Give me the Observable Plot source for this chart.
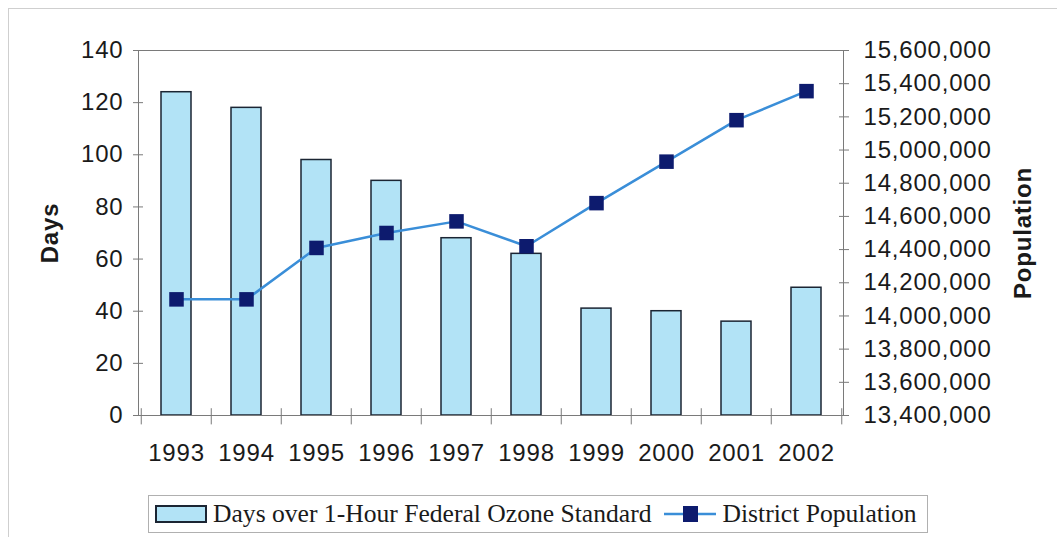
<!DOCTYPE html>
<html>
<head>
<meta charset="utf-8">
<script src="https://cdn.jsdelivr.net/npm/d3@7"></script>
<script src="https://cdn.jsdelivr.net/npm/@observablehq/plot@0.6"></script>
<style>
  html, body { margin: 0; padding: 0; background: #fff; }
  #wrap { position: relative; width: 1057px; height: 537px; overflow: hidden; }
  #outer { position: absolute; left: 8px; top: 8px; width: 1100px; height: 600px; border-top: 1px solid #cfcfcf; border-left: 1px solid #cfcfcf; }
  #chart { position: absolute; left: 0; top: 0; }
  #chart svg text { letter-spacing: 0.8px; }
  #legend { position: absolute; left: 148px; top: 495px; width: 780px; height: 38px; border: 1px solid #b0b0b0; box-sizing: border-box;
    font-family: "Liberation Serif", "Times New Roman", serif; font-size: 25.6px; color: #1a1a1a; display: flex; align-items: center; white-space: nowrap; }
  #legend .sw { display: inline-block; width: 52px; height: 18px; background: #b2e3f6; border: 2px solid #1b2533; box-sizing: border-box; margin-left: 6px; margin-right: 6px; }
  #legend svg { margin-left: 12px; margin-right: 7px; }
</style>
</head>
<body>
<div id="wrap">
  <div id="outer"></div>
  <div id="chart"></div>
  <div id="legend">
    <span class="sw"></span><span>Days over 1-Hour Federal Ozone Standard</span>
    <svg width="52" height="20"><line x1="0" y1="10" x2="52" y2="10" stroke="#3a8ed8" stroke-width="2.5"/><rect x="19" y="2" width="15" height="16" fill="#0d1b6e"/></svg>
    <span>District Population</span>
  </div>
</div>
<script>
const years = [1993, 1994, 1995, 1996, 1997, 1998, 1999, 2000, 2001, 2002];
const days = [124, 118, 98, 90, 68, 62, 41, 40, 36, 49];
const population = [14100000, 14100000, 14410000, 14500000, 14570000, 14420000, 14680000, 14930000, 15180000, 15355000];
const dayTicks = [0, 20, 40, 60, 80, 100, 120, 140];
const popTicks = [13400000, 13600000, 13800000, 14000000, 14200000, 14400000, 14600000, 14800000, 15000000, 15200000, 15400000, 15600000];

const popMin = 13400000, popMax = 15600000, dayMax = 140;
const popToDays = p => (p - popMin) / (popMax - popMin) * dayMax;
const daysToPop = v => Math.round((v / dayMax * (popMax - popMin) + popMin) / 1000) * 1000;

const data = years.map((y, i) => ({year: y, days: days[i], pop: population[i]}));
const fmt = d3.format(",");
const half = 705 / years.length / 2;

const chart = Plot.plot({
  width: 1057,
  height: 490,
  marginLeft: 138,
  marginRight: 214,
  marginTop: 50,
  marginBottom: 75,
  style: {fontFamily: "'Liberation Sans', Arial, sans-serif", fontSize: "24px", color: "#1a1a1a", background: "transparent", overflow: "visible"},
  x: {type: "band", domain: years, paddingInner: 0.575, paddingOuter: 0.2875, axis: null},
  y: {domain: [0, dayMax], axis: null},
  marks: [
    Plot.barY(data, {x: "year", y: "days", fill: "#b2e3f6", stroke: "#1b2533", strokeWidth: 1.5}),
    Plot.frame({stroke: "#7a7a7a", strokeWidth: 1}),
    Plot.ruleX(years, {x: d => d, y1: 2.6, y2: -3.6, dx: -half, stroke: "#7a7a7a"}),
    Plot.ruleX([years[years.length - 1]], {x: d => d, y1: 2.6, y2: -3.6, dx: half, stroke: "#7a7a7a"}),
    Plot.axisY({ticks: dayTicks, tickSize: 10, dx: 5, tickPadding: 10, label: null, stroke: "#7a7a7a", fontSize: 24}),
    Plot.axisY({ticks: popTicks.map(popToDays), anchor: "right", tickSize: 10, dx: -5, tickPadding: 15, label: null, tickFormat: v => fmt(daysToPop(v)), stroke: "#7a7a7a", fontSize: 24}),
    Plot.axisX({tickSize: 0, tickPadding: 28, label: null, fontSize: 24, tickFormat: d => String(d)}),
    Plot.line(data, {x: "year", y: d => popToDays(d.pop), stroke: "#3a8ed8", strokeWidth: 2.5}),
    Plot.dot(data, {x: "year", y: d => popToDays(d.pop), symbol: "square", r: 8.2, fill: "#0d1b6e", stroke: "none"}),
    Plot.text(["Days"], {frameAnchor: "left", textAnchor: "middle", dx: -88, rotate: -90, text: d => d, fontWeight: "bold", fontSize: 24}),
    Plot.text(["Population"], {frameAnchor: "right", textAnchor: "middle", dx: 180, rotate: -90, text: d => d, fontWeight: "bold", fontSize: 24})
  ]
});
document.getElementById("chart").appendChild(chart);
</script>
</body>
</html>
